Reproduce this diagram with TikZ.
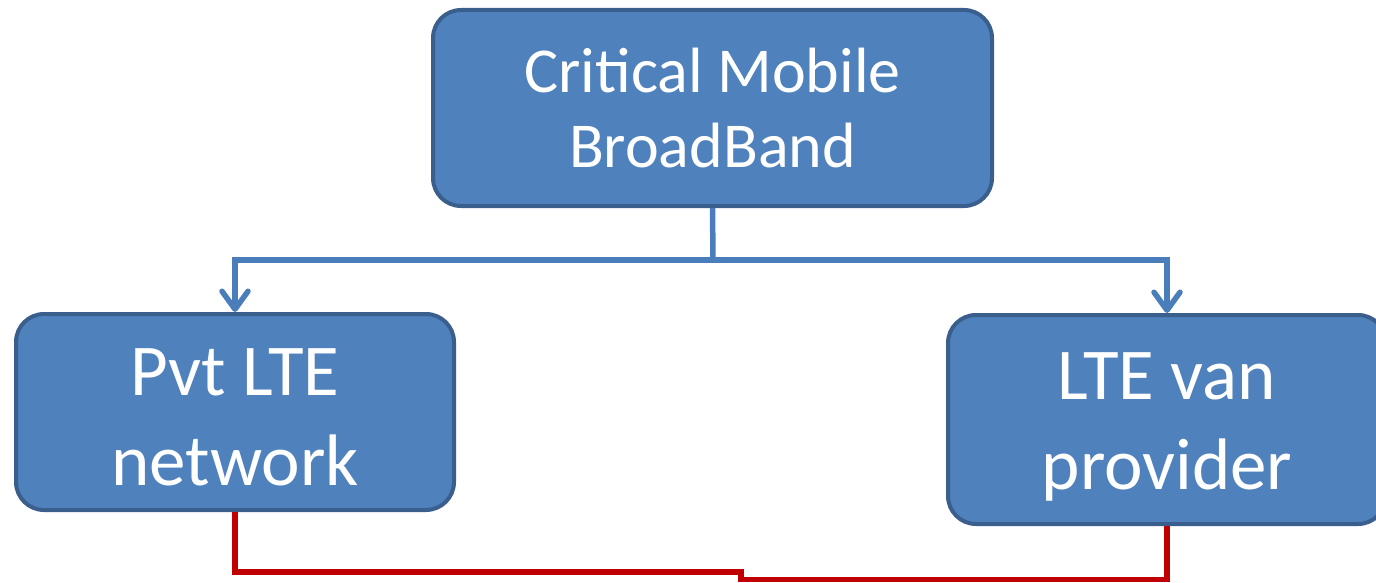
\documentclass[tikz,border=0pt]{standalone}
\usepackage{fontspec}
\setmainfont{Carlito}
\usetikzlibrary{arrows.meta}
\definecolor{boxfill}{HTML}{4F81BD}
\definecolor{boxline}{HTML}{3A5F8D}
\definecolor{linkblue}{HTML}{4A7EBB}
\definecolor{linkred}{HTML}{C00000}
\tikzset{
  box/.style={draw=boxline, fill=boxfill, line width=4pt, rounded corners=28pt,
    text=white, align=center, inner sep=0pt},
  topfont/.style={font=\fontsize{64}{75}\selectfont},
  lowfont/.style={font=\fontsize{73}{90}\selectfont},
  conn/.style={draw=linkblue, line width=5.5pt},
  arr/.style={-{Straight Barb[length=18pt,width=26pt,line cap=round,line join=round]}},
  redlink/.style={draw=linkred, line width=5.5pt}
}
\begin{document}
\begin{tikzpicture}[x=1pt,y=-1pt]
\useasboundingbox (0,0) rectangle (1376,583);
\node[box, topfont, minimum width=559pt, minimum height=196pt] (top) at (712.5,108) {Critical Mobile\\BroadBand};
\node[box, lowfont, minimum width=438pt, minimum height=196pt] (pvt) at (235,412) {\rule{0pt}{58pt}Pvt LTE\\network};
\node[box, lowfont, minimum width=438pt, minimum height=209pt] (van) at (1167,419.5) {\rule{0pt}{62pt}LTE van\\provider};
\coordinate (j) at (713,260);
\draw[conn] (top.south) -- (j);
\draw[conn, arr] (j) -| (pvt.north);
\draw[conn, arr] (j) -| (van.north);
\coordinate (r1) at (741,572);
\coordinate (r2) at (741,579.5);
\draw[redlink] (pvt.south) |- (r1) -- (r2) -| (van.south);
\end{tikzpicture}
\end{document}
